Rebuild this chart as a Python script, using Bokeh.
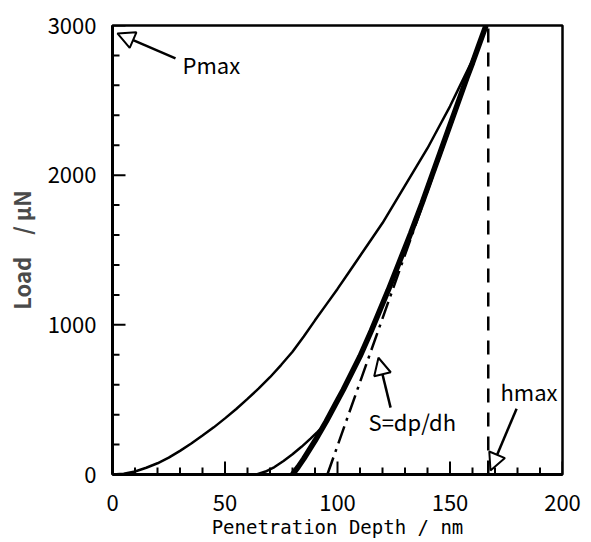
import math
from bokeh.plotting import figure
from bokeh.models import FixedTicker, Arrow, NormalHead, Range1d
from bokeh.embed import file_html
from bokeh.resources import INLINE
from bokeh.core.properties import value

# ---- data ----
load_h = [0, 5, 10, 15, 20, 25, 30, 35, 40, 45, 50, 55, 60, 65, 70, 75, 80, 85, 90, 95,
          100, 105, 110, 115, 120, 125, 130, 135, 140, 145, 150, 155, 160, 166]
load_p = [0, 5, 20, 45, 75, 113, 158, 207, 260, 315, 375, 438, 505, 575, 650, 733, 820, 922,
          1030, 1135, 1240, 1350, 1460, 1570, 1680, 1805, 1930, 2055, 2180, 2320, 2460, 2615,
          2770, 3000]

unload_h = [80, 82.5, 85, 87.5, 90, 92.5, 95, 97.5, 100, 102.5, 105, 107.5, 110, 112.5, 115,
            117.5, 120, 122.5, 125, 127.5, 130, 132.5, 135, 137.5, 140, 142.5, 145, 147.5,
            150, 152.5, 155, 157.5, 160, 162.5, 166]
unload_p = [0, 50, 105, 165, 225, 290, 355, 425, 495, 565, 640, 715, 790, 875, 960, 1050,
            1140, 1230, 1325, 1420, 1515, 1610, 1710, 1810, 1915, 2020, 2125, 2230, 2335,
            2440, 2545, 2650, 2750, 2855, 3000]

reload_h = [64, 68, 72, 76, 80, 84, 88, 91, 93.5]
reload_p = [0, 20, 50, 90, 135, 185, 240, 283, 320]

tangent_h = [95.5, 166]
tangent_p = [0, 3000]

hmax_h = [167, 167]
hmax_p = [0, 3000]

x_ticks = [0, 50, 100, 150, 200]
x_minor = [v for v in range(0, 201, 10) if v % 50 != 0]
y_ticks = [0, 1000, 2000, 3000]
y_minor = [v for v in range(0, 3001, 200) if v % 1000 != 0]

x_title = "Penetration Depth / nm"
y_title = "Load\u3000/ \u03bcN"

FONT = "Noto Sans CJK JP"
MONO = "DejaVu Sans Mono"

p = figure(width=590, height=541, output_backend="svg", toolbar_location=None,
           x_range=Range1d(0, 200), y_range=Range1d(0, 3000),
           min_border_left=112, min_border_right=28, min_border_top=25, min_border_bottom=67)

p.background_fill_color = "white"
p.border_fill_color = "white"
p.outline_line_color = "black"
p.outline_line_width = 2.5
p.xgrid.visible = False
p.ygrid.visible = False

for ax in (p.xaxis[0], p.yaxis[0]):
    ax.axis_line_width = 3
    ax.axis_line_color = "black"
    ax.major_tick_in = 0
    ax.major_tick_out = 0
    ax.minor_tick_in = 0
    ax.minor_tick_out = 0
    ax.major_label_text_font = FONT
    ax.major_label_text_font_size = "22px"
    ax.major_label_text_color = "black"
    ax.axis_label_text_font_style = "normal"

p.xaxis[0].ticker = FixedTicker(ticks=x_ticks, minor_ticks=[])
p.yaxis[0].ticker = FixedTicker(ticks=y_ticks, minor_ticks=[])
p.xaxis[0].major_label_standoff = 20
p.yaxis[0].major_label_standoff = 16

p.xaxis[0].axis_label = x_title
p.xaxis[0].axis_label_text_font = MONO
p.xaxis[0].axis_label_text_font_size = "19px"
p.xaxis[0].axis_label_text_color = "black"
p.xaxis[0].axis_label_standoff = 2

p.yaxis[0].axis_label = y_title
p.yaxis[0].axis_label_text_font = FONT
p.yaxis[0].axis_label_text_font_size = "22px"
p.yaxis[0].axis_label_text_font_style = "bold"
p.yaxis[0].axis_label_text_color = "#4a4a4a"
p.yaxis[0].axis_label_standoff = 8

# inward tick marks (drawn at the axis positions, clipped to the frame)
p.scatter(x=x_ticks, y=[0] * len(x_ticks), marker="dash", size=26, angle=math.pi / 2,
          line_color="black", line_width=2)
p.scatter(x=x_minor, y=[0] * len(x_minor), marker="dash", size=14, angle=math.pi / 2,
          line_color="black", line_width=2)
p.scatter(x=[0] * len(y_ticks), y=y_ticks, marker="dash", size=26,
          line_color="black", line_width=2)
p.scatter(x=[0] * len(y_minor), y=y_minor, marker="dash", size=14,
          line_color="black", line_width=2)

# curves
p.line(load_h, load_p, line_color="black", line_width=2.5)
p.line(reload_h, reload_p, line_color="black", line_width=2.5)
p.line(unload_h, unload_p, line_color="black", line_width=5.5)
p.line(tangent_h, tangent_p, line_color="black", line_width=2.5, line_dash="18 6 3 6")
p.line(hmax_h, hmax_p, line_color="black", line_width=2.5, line_dash="14 10")

# annotations
def add_arrow(x0, y0, x1, y1):
    head = NormalHead(size=17, fill_color="white", line_color="black", line_width=2)
    p.add_layout(Arrow(end=head, x_start=x0, y_start=y0, x_end=x1, y_end=y1,
                       line_color="black", line_width=2.5))

add_arrow(28, 2780, 2.2, 2947)
add_arrow(123.6, 447, 118.2, 780)
add_arrow(179.6, 440, 168, 27)

p.text(x=[31.1], y=[2740], text=["Pmax"], text_font=value(FONT), text_font_size="22px",
       text_align="left", text_baseline="middle", text_color="black")
p.text(x=[113.8], y=[360], text=["S=dp/dh"], text_font=value(FONT), text_font_size="22px",
       text_align="left", text_baseline="middle", text_color="black")
p.text(x=[172.4], y=[560], text=["hmax"], text_font=value(FONT), text_font_size="22px",
       text_align="left", text_baseline="middle", text_color="black")

open("out.html", "w").write(file_html(p, INLINE))
